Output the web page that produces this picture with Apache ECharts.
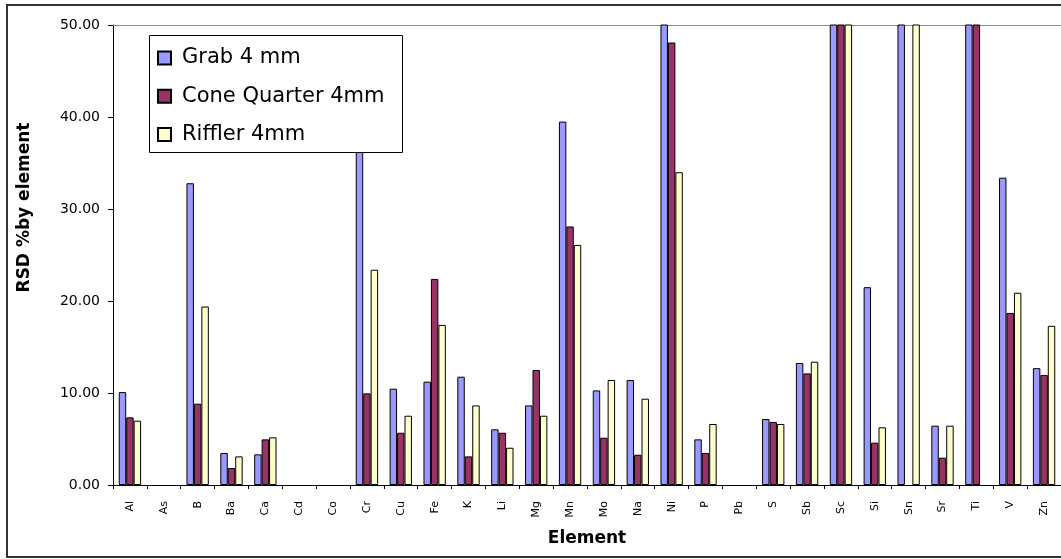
<!DOCTYPE html>
<html>
<head>
<meta charset="utf-8">
<script src="https://cdn.jsdelivr.net/npm/echarts@6/dist/echarts.min.js"></script>
<style>html,body{margin:0;padding:0;background:#fff;overflow:hidden}#c{width:1061px;height:559px}</style>
</head>
<body>
<div id="c"></div>
<script>
const categories = ['Al','As','B','Ba','Ca','Cd','Co','Cr','Cu','Fe','K','Li','Mg','Mn','Mo','Na','Ni','P','Pb','S','Sb','Sc','Si','Sn','Sr','Ti','V','Zn'];
const grab4mm    = [10.1, null, 32.8, 3.48, 3.33, null, null, 42.0, 10.47, 11.23, 11.77, 6.05, 8.65, 39.5, 10.28, 11.41, 58.0, 4.96, null, 7.17, 13.26, 75.0, 21.5, 62.0, 6.45, 80.0, 33.4, 12.7];
const coneQuarter4mm = [7.35, null, 8.84, 1.85, 4.96, null, null, 9.96, 5.68, 22.4, 3.11, 5.68, 12.5, 28.1, 5.14, 3.29, 48.1, 3.48, null, 6.85, 12.13, 70.0, 4.6, null, 2.97, 72.0, 18.7, 11.96];
const riffler4mm = [6.99, null, 19.4, 3.11, 5.18, null, null, 23.4, 7.53, 17.4, 8.65, 4.05, 7.53, 26.1, 11.41, 9.38, 34.0, 6.63, null, 6.63, 13.4, 65.0, 6.27, 55.0, 6.45, null, 20.9, 17.3];
const seriesNames = ['Grab 4 mm', 'Cone Quarter 4mm', 'Riffler 4mm'];
const yTicks = {min: 0, max: 50, interval: 10};

const colors = ['#9999FF', '#993366', '#FFFFCC'];
const font = 'DejaVu Sans';
const chart = echarts.init(document.getElementById('c'));
const mk = (name, data, color) => ({
  name, type: 'bar', data,
  barGap: '0%', barCategoryGap: '34%',
  itemStyle: {color, borderColor: '#000', borderWidth: 1},
  emphasis: {disabled: true},
  animation: false
});
chart.setOption({
  animation: false,
  backgroundColor: '#fff',
  graphic: [
    {type: 'rect', z: 0, shape: {x: 7, y: 5, width: 1200, height: 552}, style: {fill: 'none', stroke: '#333', lineWidth: 2}},
    {type: 'rect', z: 10, shape: {x: 149.5, y: 35.5, width: 253, height: 117}, style: {fill: '#fff', stroke: '#000', lineWidth: 1}}
  ],
  grid: {left: 113, top: 25, width: 951, height: 460, show: false},
  legend: {
    z: 20, orient: 'vertical', left: 157, top: 46, padding: 0,
    itemWidth: 13, itemHeight: 13, itemGap: 14.3, icon: 'rect',
    textStyle: {fontFamily: font, fontSize: 21, color: '#000', lineHeight: 24, padding: [0, 0, 0, 6]},
    data: seriesNames
  },
  xAxis: [{
    type: 'category', data: categories,
    name: 'Element', nameLocation: 'middle', nameGap: 45,
    nameTextStyle: {fontFamily: font, fontWeight: 'bold', fontSize: 17, color: '#000'},
    axisLine: {lineStyle: {color: '#000', width: 1}},
    axisTick: {show: true, length: 4, lineStyle: {color: '#000'}, alignWithLabel: false},
    axisLabel: {rotate: 90, fontFamily: font, fontSize: 11, color: '#000', margin: 16, interval: 0}
  }, {
    type: 'category', data: categories, position: 'top',
    axisLine: {show: true, lineStyle: {color: '#8c8c8c', width: 1}},
    axisTick: {show: false}, axisLabel: {show: false}, splitLine: {show: false}
  }],
  yAxis: {
    type: 'value', min: yTicks.min, max: yTicks.max, interval: yTicks.interval,
    name: 'RSD %by element', nameLocation: 'middle', nameGap: 80,
    nameTextStyle: {fontFamily: font, fontWeight: 'bold', fontSize: 17, color: '#000', padding: [0, 0, 0, 95]},
    axisLine: {show: true, lineStyle: {color: '#000', width: 1}},
    axisTick: {show: true, length: 5, lineStyle: {color: '#000'}},
    splitLine: {show: false},
    axisLabel: {fontFamily: font, fontSize: 14, color: '#000', margin: 13, formatter: v => v.toFixed(2)}
  },
  series: [
    mk(seriesNames[0], grab4mm, colors[0]),
    mk(seriesNames[1], coneQuarter4mm, colors[1]),
    mk(seriesNames[2], riffler4mm, colors[2])
  ]
});
</script>
</body>
</html>
